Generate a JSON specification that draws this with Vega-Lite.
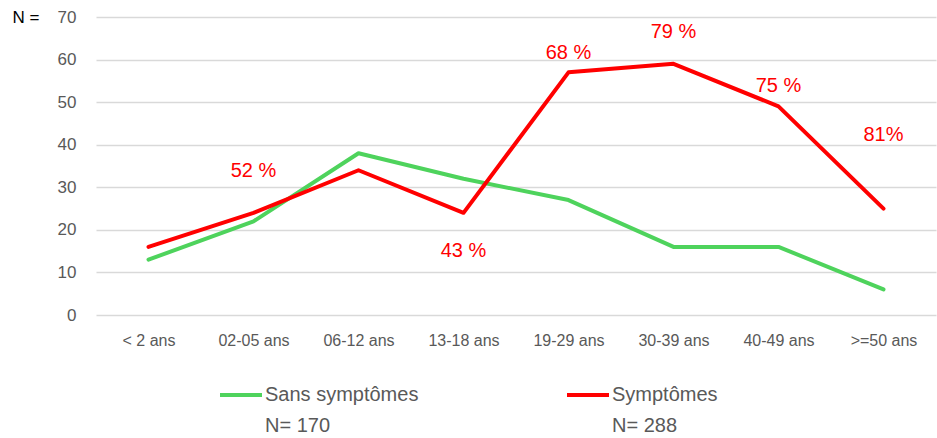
{
  "$schema": "https://vega.github.io/schema/vega-lite/v6.json",
  "width": 840,
  "height": 298,
  "autosize": {"type": "none"},
  "padding": {"left": 96, "top": 17, "right": 1, "bottom": 123},
  "background": "white",
  "config": {
    "view": {"stroke": null},
    "font": "Liberation Sans",
    "legend": {"padding": 0}
  },
  "datasets": {
    "counts": [
      {"age": "< 2 ans", "serie": "Sans symptômes", "n": 13},
      {"age": "02-05 ans", "serie": "Sans symptômes", "n": 22},
      {"age": "06-12 ans", "serie": "Sans symptômes", "n": 38},
      {"age": "13-18 ans", "serie": "Sans symptômes", "n": 32},
      {"age": "19-29 ans", "serie": "Sans symptômes", "n": 27},
      {"age": "30-39 ans", "serie": "Sans symptômes", "n": 16},
      {"age": "40-49 ans", "serie": "Sans symptômes", "n": 16},
      {"age": ">=50 ans", "serie": "Sans symptômes", "n": 6},
      {"age": "< 2 ans", "serie": "Symptômes", "n": 16},
      {"age": "02-05 ans", "serie": "Symptômes", "n": 24},
      {"age": "06-12 ans", "serie": "Symptômes", "n": 34},
      {"age": "13-18 ans", "serie": "Symptômes", "n": 24},
      {"age": "19-29 ans", "serie": "Symptômes", "n": 57},
      {"age": "30-39 ans", "serie": "Symptômes", "n": 59},
      {"age": "40-49 ans", "serie": "Symptômes", "n": 49},
      {"age": ">=50 ans", "serie": "Symptômes", "n": 25}
    ],
    "labels": [
      {"age": "02-05 ans", "pct": "52 %", "at": 33.9},
      {"age": "13-18 ans", "pct": "43 %", "at": 15.1},
      {"age": "19-29 ans", "pct": "68 %", "at": 61.5},
      {"age": "30-39 ans", "pct": "79 %", "at": 66.5},
      {"age": "40-49 ans", "pct": "75 %", "at": 53.7},
      {"age": ">=50 ans", "pct": "81%", "at": 42.2}
    ]
  },
  "layer": [
    {
      "data": {"name": "counts"},
      "mark": {"type": "line", "strokeWidth": 4, "strokeCap": "round", "strokeJoin": "round"},
      "encoding": {
        "x": {
          "field": "age", "type": "nominal",
          "sort": ["< 2 ans", "02-05 ans", "06-12 ans", "13-18 ans", "19-29 ans", "30-39 ans", "40-49 ans", ">=50 ans"],
          "scale": {"type": "point", "padding": 0.5},
          "axis": {
            "title": null, "labelAngle": 0, "domain": false, "ticks": false, "grid": false,
            "labelFontSize": 16, "labelColor": "#595959", "labelPadding": 17
          }
        },
        "y": {
          "field": "n", "type": "quantitative",
          "scale": {"domain": [0, 70], "nice": false},
          "axis": {
            "values": [0, 10, 20, 30, 40, 50, 60, 70],
            "domain": false, "ticks": false,
            "gridColor": "#d9d9d9", "gridWidth": 1.3,
            "labelFontSize": 17, "labelColor": "#595959", "labelPadding": 20,
            "title": "N =", "titleAngle": 0, "titleX": -84, "titleY": 0,
            "titleAlign": "left", "titleBaseline": "middle",
            "titleFontSize": 17, "titleFontWeight": "normal", "titleColor": "#000000"
          }
        },
        "color": {
          "field": "serie", "type": "nominal",
          "scale": {"domain": ["Sans symptômes", "Symptômes"], "range": ["#4ED35C", "#FF0000"]},
          "legend": {
            "title": null,
            "orient": "none",
            "direction": "horizontal",
            "columns": 2,
            "legendX": 122,
            "legendY": 355,
            "columnPadding": 140,
            "symbolType": "stroke",
            "symbolSize": 1764,
            "symbolStrokeWidth": 4,
            "labelOffset": 1,
            "labelLimit": 400,
            "labelFontSize": 20,
            "labelColor": "#595959",
            "labelExpr": "datum.label == 'Symptômes' ? ['Symptômes', 'N= 288'] : ['Sans symptômes', 'N= 170']",
            "encode": {"labels": {"update": {"lineHeight": {"value": 31}}}}
          }
        }
      }
    },
    {
      "data": {"name": "labels"},
      "mark": {"type": "text", "color": "#FF0000", "fontSize": 20},
      "encoding": {
        "x": {"field": "age", "type": "nominal", "sort": ["< 2 ans", "02-05 ans", "06-12 ans", "13-18 ans", "19-29 ans", "30-39 ans", "40-49 ans", ">=50 ans"]},
        "y": {"field": "at", "type": "quantitative"},
        "text": {"field": "pct"}
      }
    }
  ]
}
